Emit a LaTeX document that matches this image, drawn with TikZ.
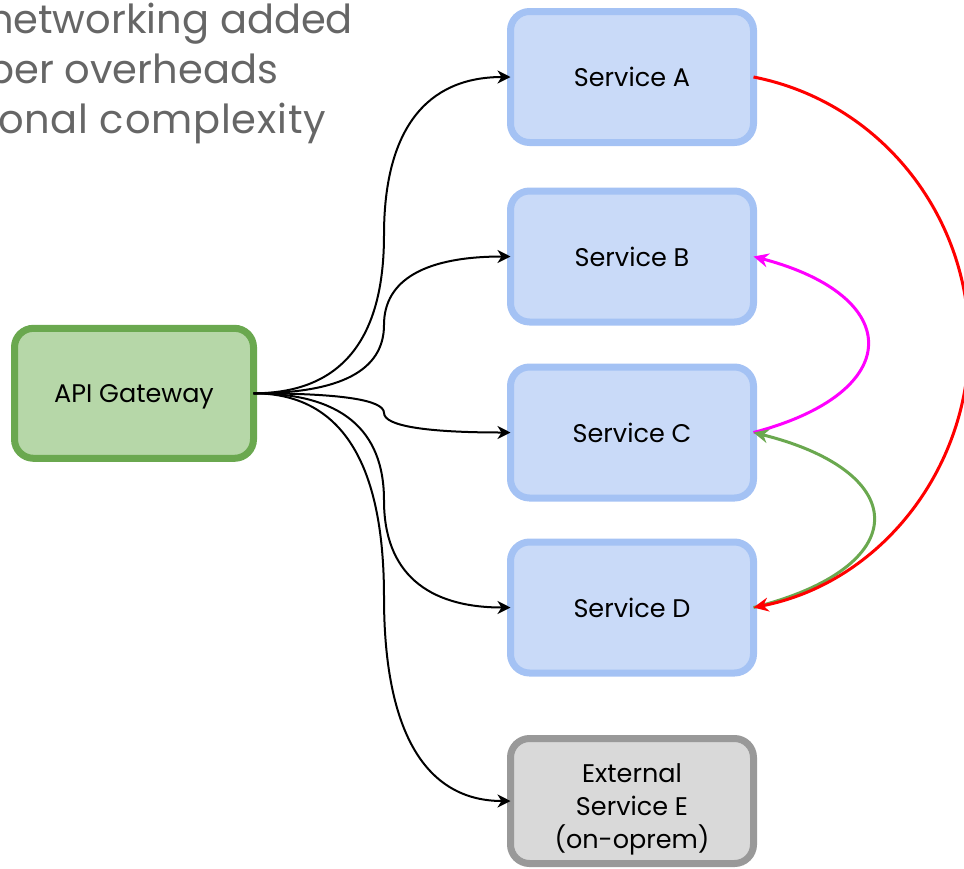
\documentclass[tikz,border=0pt]{standalone}
\usepackage{fontspec}
\setmainfont{Poppins}
\usetikzlibrary{arrows.meta,calc}
\definecolor{svcfill}{HTML}{C9DAF8}
\definecolor{svcline}{HTML}{A4C2F4}
\definecolor{gwfill}{HTML}{B6D7A8}
\definecolor{gwline}{HTML}{6AA84F}
\definecolor{extfill}{HTML}{D9D9D9}
\definecolor{extline}{HTML}{999999}
\definecolor{notegray}{HTML}{666666}
\definecolor{callgreen}{HTML}{6AA84F}
\definecolor{callmagenta}{HTML}{FF00FF}
\definecolor{callred}{HTML}{FF0000}
\begin{document}
\begin{tikzpicture}[x=1pt,y=-1pt,
  box/.style={rectangle, rounded corners=19pt, line width=7pt,
    minimum width=243pt, minimum height=131pt, outer sep=0pt, inner sep=0pt,
    align=center, font=\fontsize{25.5}{33}\selectfont, text=black,
    text depth=0pt},
  svc/.style={box, draw=svcline, fill=svcfill},
  ext/.style={box, draw=extline, fill=extfill},
  gateway/.style={box, draw=gwline, fill=gwfill},
  note/.style={inner sep=0pt, outer sep=0pt, text=notegray,
    font=\fontsize{40}{50}\selectfont},
  link/.style={draw=black, line width=2pt,
    -{Stealth[length=13pt,width=13pt,inset=4pt]}},
  call/.style={line width=3pt,
    -{Stealth[length=15pt,width=14pt,inset=5pt]}}
]
\useasboundingbox (0,0) rectangle (964,868);

% notes in the upper left corner, running off the left edge
\node[note, anchor=base east] (n1) at (353,33) {networking added};
\node[note, anchor=base east] (n2) at (278,83) {per overheads};
\node[note, anchor=base east] (n3) at (326,133) {\addfontfeatures{LetterSpace=2}onal complexity};

% services
\node[svc] (sa) at (632,77) {Service A};
\node[svc] (sb) at (632,256.5) {Service B};
\node[svc] (sc) at (632,432.5) {Service C};
\node[svc] (sd) at (632,607.5) {Service D};
\node[ext, minimum height=125pt] (se) at (632,801)
  {\rule{0pt}{29pt}External\\Service E\\(on-oprem)};

% gateway
\node[gateway, minimum width=239pt, minimum height=130pt] (gw) at (134,393.3) {API Gateway};

% gateway fan-out: two quadratic bends around the column x = 384
\coordinate (kx) at (384,0);
\foreach \tgt in {sa,sb,sc,sd,se}{
  \path (gw.east -| kx) coordinate (c1) (\tgt.west -| kx) coordinate (c2);
  \path ($(c1)!0.5!(c2)$) coordinate (m);
  \draw[link] (gw.east)
    .. controls ($(gw.east)!2/3!(c1)$) and ($(m)!2/3!(c1)$) .. (m)
    .. controls ($(m)!2/3!(c2)$) and ($(\tgt.west)!2/3!(c2)$) .. (\tgt.west);
}

% service-to-service calls
\draw[call, draw=callmagenta] (sc.east) .. controls +(152,-40) and +(152,40) .. (sb.east);
\draw[call, draw=callgreen] (sd.east) .. controls +(160,-40) and +(160,40) .. (sc.east);
\coordinate (rmid) at ($(sa.east)!0.5!(sd.east)+(215.5,0)$);
\draw[call, draw=callred] (sa.east) .. controls +(126,24.6) and +(0,-128) .. (rmid)
  .. controls +(0,128) and +(126,-24.6) .. (sd.east);
\end{tikzpicture}
\end{document}
